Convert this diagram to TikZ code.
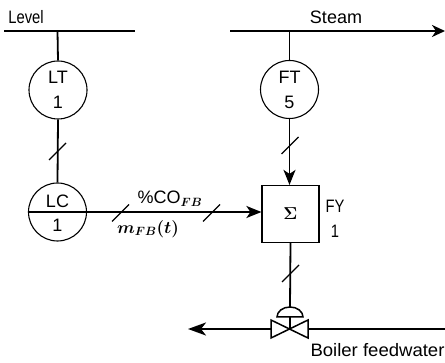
\documentclass[tikz,border=0pt]{standalone}
\usepackage{amsmath, amssymb}
\usepackage{fontspec}
\setmainfont{Liberation Sans}
\usepackage{tikz}
\usetikzlibrary{arrows.meta}
\tikzset{
  instr/.style={draw, circle, line width=1.1pt, minimum size=58pt, inner sep=0pt, align=center},
  lbl/.style={font=\fontsize{18}{25}\selectfont, inner sep=0pt, align=center},
  mathlbl/.style={font=\fontsize{18.5}{25}\selectfont, inner sep=0pt},
  process/.style={line width=2.4pt},
  signal/.style={line width=1.8pt},
  tick/.style={line width=1.2pt}
}
\begin{document}
\begin{tikzpicture}[x=1pt, y=-1pt]
\useasboundingbox (0,0) rectangle (445,363);
% process lines
\coordinate (levelA) at (4,31);
\coordinate (levelB) at (135,31);
\coordinate (steamA) at (230,31);
\coordinate (steamB) at (445,31);
\coordinate (feedIn) at (445,329);
\coordinate (feedOut) at (188,329);
\draw[process] (levelA) -- (levelB);
\draw[process, -{Stealth[length=13pt, width=12pt, inset=4pt]}] (steamA) -- (steamB);
\node[lbl, xscale=0.82] (level) at (26,17) {Level};
\node[lbl] (steam) at (336,17) {Steam};
% instruments
\node[instr, lbl] (LT) at (58,90) {LT\\1};
\node[instr, lbl] (FT) at (289.5,89.5) {FT\\5};
\node[instr] (LC) at (57.5,212) {};
\node[lbl] (LCtag) at (57.5,201) {LC};
\node[lbl] (LCnum) at (57.5,225) {1};
\node[draw, line width=1.2pt, minimum size=57pt, inner sep=0pt, font=\fontsize{19}{25}\selectfont] (FY) at (290.5,214) {$\boldsymbol{\Sigma}$};
\node[lbl, xscale=0.82] (FYtag) at (335,219) {FY\\1};
% valve
\coordinate (valve) at (290,329);
\coordinate (stem) at (290,307);
\draw[line width=1.5pt] (277,317) arc[start angle=180, end angle=0, x radius=13pt, y radius=10pt] -- cycle;
\draw[line width=1.5pt] (271,320) -- (271,338) -- (308,320) -- (308,338) -- cycle;
\coordinate (valveL) at (271,329);
\coordinate (valveR) at (308,329);
\draw[process] (feedIn) -- (valveR);
\draw[process, -{Stealth[length=18pt, width=13pt, inset=5pt]}] (valveL) -- (feedOut);
\node[lbl, xscale=1.03] (feed) at (377.5,350) {Boiler feedwater};
% signal lines
\coordinate (levelTap) at (57.5,31);
\coordinate (steamTap) at (289.5,31);
\draw[signal] (levelTap) -- (LT.north);
\draw[signal] (steamTap) -- (FT.north);
\draw[signal] (LT.south) -- (LC.north);
\draw[signal, -{Stealth[length=15pt, width=12pt, inset=4pt]}] (FT.south) -- (FT.south |- FY.north);
\draw[signal, -{Stealth[length=15pt, width=12pt, inset=4pt]}] (LC.west) -- (LC.west -| FY.west);
\draw[signal] (FY.south) -- (stem);
\draw[signal] (stem |- 0,317) -- (valve);
\foreach \x/\y in {57.5/151.5, 120.5/213, 211.5/213, 290/145.5, 290.5/273.5} {
  \draw[tick] (\x-8.5,\y+8.5) -- (\x+8.5,\y-8.5);
}
% signal labels
\node[lbl] (co) at (170,199) {\%CO$_{\boldsymbol{FB}}$};
\node[mathlbl] (mfb) at (148,229) {$\boldsymbol{m}_{\boldsymbol{FB}}\boldsymbol{(t)}$};
\end{tikzpicture}
\end{document}
